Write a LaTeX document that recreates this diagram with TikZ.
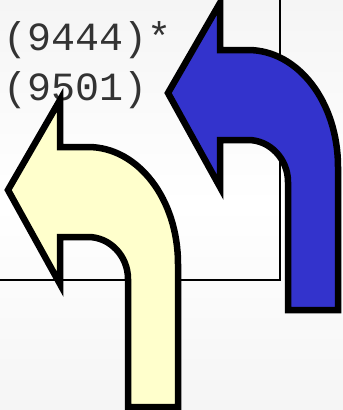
\documentclass[tikz,border=0pt]{standalone}
\usepackage{fontspec}
\setmonofont{Liberation Mono}
\usepackage{xcolor}

\definecolor{turnblue}{HTML}{3333CC}
\definecolor{turnyellow}{HTML}{FFFFCC}
\definecolor{pagegray}{HTML}{F5F5F5}

\begin{document}
\begin{tikzpicture}[
    x=1pt, y=-1pt,
    line join=miter,
    frameline/.style={line width=1.4pt},
    turnarrow/.style={draw=black, line width=6.5pt},
    codeline/.style={anchor=base west, inner sep=0pt, text=black!80,
        font=\ttfamily\fontsize{40}{40}\selectfont},
    pics/uturn/.style={code={
        \path[turnarrow, fill=#1]
            (168,93) -- (220,3) -- (220,50) -- (248,50)
            .. controls (298,50) and (338,102) .. (338,167)
            -- (338,310) -- (288,310) -- (288,182)
            .. controls (288,159) and (270,140) .. (248,140)
            -- (220,140) -- (220,187) -- cycle;
    }}
]
% background
\path[top color=pagegray, bottom color=pagegray, middle color=white]
    (0,0) rectangle (343,410);
\useasboundingbox (0,0) rectangle (343,410);

% 1. Frame
\coordinate (framecorner) at (280,280);
\draw[frameline] (280,0) -- (framecorner) -- (0,280);

% 2. Labels
\node[codeline] (first) at (3,50) {(9444)*};
\node[codeline] (second) at (3,100) {(9501)};

% 3. Arrows
\pic at (0,0) {uturn=turnblue};
\pic at (-160,97) {uturn=turnyellow};
\end{tikzpicture}
\end{document}
